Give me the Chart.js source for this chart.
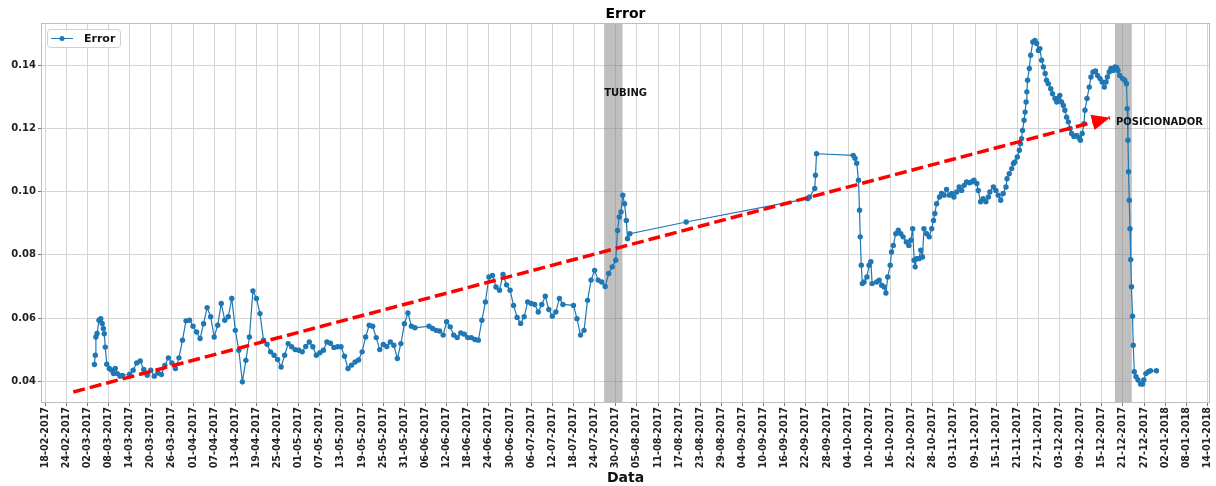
<!DOCTYPE html>
<html>
<head>
<meta charset="utf-8">
<script src="https://cdn.jsdelivr.net/npm/chart.js@4.4.1/dist/chart.umd.min.js"></script>
<style>
  html, body { margin: 0; padding: 0; background: #fff; }
  #wrap { width: 1216px; height: 486px; }
</style>
</head>
<body>
<div id="wrap"><canvas id="errorChart" width="1216" height="486"></canvas></div>
<script>
// tick labels (every 6 days)
const xTickLabels = [
    '18-02-2017', '24-02-2017', '02-03-2017', '08-03-2017', '14-03-2017', '20-03-2017', '26-03-2017',
    '01-04-2017', '07-04-2017', '13-04-2017', '19-04-2017', '25-04-2017', '01-05-2017', '07-05-2017',
    '13-05-2017', '19-05-2017', '25-05-2017', '31-05-2017', '06-06-2017', '12-06-2017', '18-06-2017',
    '24-06-2017', '30-06-2017', '06-07-2017', '12-07-2017', '18-07-2017', '24-07-2017', '30-07-2017',
    '05-08-2017', '11-08-2017', '17-08-2017', '23-08-2017', '29-08-2017', '04-09-2017', '10-09-2017',
    '16-09-2017', '22-09-2017', '28-09-2017', '04-10-2017', '10-10-2017', '16-10-2017', '22-10-2017',
    '28-10-2017', '03-11-2017', '09-11-2017', '15-11-2017', '21-11-2017', '27-11-2017', '03-12-2017',
    '09-12-2017', '15-12-2017', '21-12-2017', '27-12-2017', '02-01-2018', '08-01-2018', '14-01-2018'
];
const yTicks = [0.04, 0.06, 0.08, 0.10, 0.12, 0.14];
const xRange = ['2017-02-16 20:00', '2018-01-14 17:00'];
const yRange = [0.0331, 0.1534];

// Error series
const errorDates = [
    '2017-03-04 00:00', '2017-03-04 06:00', '2017-03-04 10:00', '2017-03-04 18:00', '2017-03-05 07:00',
    '2017-03-05 19:00', '2017-03-06 05:00', '2017-03-06 13:00', '2017-03-06 19:00', '2017-03-07 02:00',
    '2017-03-07 12:00', '2017-03-08 05:00', '2017-03-08 22:00', '2017-03-09 10:00', '2017-03-09 22:00',
    '2017-03-10 12:00', '2017-03-11 07:00', '2017-03-11 22:00',
    '2017-03-14', '2017-03-15', '2017-03-16', '2017-03-17', '2017-03-18', '2017-03-19', '2017-03-20',
    '2017-03-21', '2017-03-22', '2017-03-23', '2017-03-24', '2017-03-25', '2017-03-26', '2017-03-27',
    '2017-03-28', '2017-03-29', '2017-03-30', '2017-03-31',
    '2017-04-01', '2017-04-02', '2017-04-03', '2017-04-04', '2017-04-05', '2017-04-06', '2017-04-07',
    '2017-04-08', '2017-04-09', '2017-04-10', '2017-04-11', '2017-04-12', '2017-04-13', '2017-04-14',
    '2017-04-15', '2017-04-16', '2017-04-17', '2017-04-18', '2017-04-19', '2017-04-20', '2017-04-21',
    '2017-04-22', '2017-04-23', '2017-04-24', '2017-04-25', '2017-04-26', '2017-04-27', '2017-04-28',
    '2017-04-29', '2017-04-30',
    '2017-05-01', '2017-05-02', '2017-05-03', '2017-05-04', '2017-05-05', '2017-05-06', '2017-05-07',
    '2017-05-08', '2017-05-09', '2017-05-10', '2017-05-11', '2017-05-12', '2017-05-13', '2017-05-14',
    '2017-05-15', '2017-05-16', '2017-05-17', '2017-05-18', '2017-05-19', '2017-05-20', '2017-05-21',
    '2017-05-22', '2017-05-23', '2017-05-24', '2017-05-25', '2017-05-26', '2017-05-27', '2017-05-28',
    '2017-05-29', '2017-05-30', '2017-05-31',
    '2017-06-01', '2017-06-02', '2017-06-03', '2017-06-07', '2017-06-08', '2017-06-09', '2017-06-10',
    '2017-06-11', '2017-06-12', '2017-06-13', '2017-06-14', '2017-06-15', '2017-06-16', '2017-06-17',
    '2017-06-18', '2017-06-19', '2017-06-20', '2017-06-21', '2017-06-22', '2017-06-23', '2017-06-24',
    '2017-06-25', '2017-06-26', '2017-06-27', '2017-06-28', '2017-06-29', '2017-06-30',
    '2017-07-01', '2017-07-02', '2017-07-03', '2017-07-04', '2017-07-05', '2017-07-06', '2017-07-07',
    '2017-07-08', '2017-07-09', '2017-07-10', '2017-07-11', '2017-07-12', '2017-07-13', '2017-07-14',
    '2017-07-15', '2017-07-18', '2017-07-19', '2017-07-20', '2017-07-21', '2017-07-22', '2017-07-23',
    '2017-07-24', '2017-07-25', '2017-07-26', '2017-07-27', '2017-07-28', '2017-07-29', '2017-07-30',
    '2017-07-30 12:00', '2017-07-31', '2017-07-31 12:00', '2017-08-01', '2017-08-01 12:00', '2017-08-02',
    '2017-08-02 08:00', '2017-08-03',
    '2017-08-19', '2017-09-22 12:00', '2017-09-23', '2017-09-24 12:00', '2017-09-24 17:00', '2017-09-25',
    '2017-10-05 10:00', '2017-10-05 22:00', '2017-10-06 10:00', '2017-10-06 22:00', '2017-10-07 05:00',
    '2017-10-07 10:00', '2017-10-07 17:00', '2017-10-08 00:00', '2017-10-08 12:00', '2017-10-09 07:00',
    '2017-10-09 22:00', '2017-10-10 10:00', '2017-10-10 19:00', '2017-10-12 02:00', '2017-10-12 19:00',
    '2017-10-13 12:00', '2017-10-14 05:00', '2017-10-14 17:00', '2017-10-15 05:00', '2017-10-15 22:00',
    '2017-10-16 07:00', '2017-10-16 19:00', '2017-10-17 12:00', '2017-10-18 05:00', '2017-10-18 22:00',
    '2017-10-19 14:00', '2017-10-20 12:00', '2017-10-21 05:00', '2017-10-21 19:00', '2017-10-22 07:00',
    '2017-10-22 17:00', '2017-10-23 00:00', '2017-10-23 10:00', '2017-10-24 02:00', '2017-10-24 14:00',
    '2017-10-25 02:00', '2017-10-25 12:00', '2017-10-26 07:00', '2017-10-27 00:00', '2017-10-27 17:00',
    '2017-10-28 05:00', '2017-10-28 14:00', '2017-10-29 02:00', '2017-10-29 22:00', '2017-10-30 12:00',
    '2017-10-31 05:00', '2017-10-31 22:00',
    '2017-11-01 17:00', '2017-11-02 10:00', '2017-11-03 00:00', '2017-11-03 19:00', '2017-11-04 12:00',
    '2017-11-05 05:00', '2017-11-05 22:00', '2017-11-06 14:00', '2017-11-07 10:00', '2017-11-08 00:00',
    '2017-11-08 17:00', '2017-11-09 12:00', '2017-11-09 22:00', '2017-11-10 14:00', '2017-11-11 07:00',
    '2017-11-12 02:00', '2017-11-12 19:00', '2017-11-13 05:00', '2017-11-14 05:00', '2017-11-14 22:00',
    '2017-11-15 14:00', '2017-11-16 07:00', '2017-11-17 00:00', '2017-11-17 19:00', '2017-11-18 02:00',
    '2017-11-18 17:00', '2017-11-19 10:00', '2017-11-19 22:00', '2017-11-20 07:00', '2017-11-21 00:00',
    '2017-11-21 14:00', '2017-11-21 22:00', '2017-11-22 05:00', '2017-11-22 12:00', '2017-11-22 22:00',
    '2017-11-23 05:00', '2017-11-23 12:00', '2017-11-23 17:00', '2017-11-23 22:00', '2017-11-24 10:00',
    '2017-11-24 19:00', '2017-11-25 10:00', '2017-11-26 00:00', '2017-11-26 12:00', '2017-11-27 00:00',
    '2017-11-27 10:00', '2017-11-27 22:00', '2017-11-28 10:00', '2017-11-28 22:00', '2017-11-29 07:00',
    '2017-11-29 19:00', '2017-11-30 12:00',
    '2017-12-01 00:00', '2017-12-01 17:00', '2017-12-02 05:00', '2017-12-02 14:00', '2017-12-03 02:00',
    '2017-12-03 14:00', '2017-12-04 02:00', '2017-12-04 12:00', '2017-12-05 00:00', '2017-12-05 12:00',
    '2017-12-06 00:00', '2017-12-06 10:00', '2017-12-07 02:00', '2017-12-07 19:00', '2017-12-08 12:00',
    '2017-12-08 22:00', '2017-12-09 10:00', '2017-12-09 22:00', '2017-12-10 05:00', '2017-12-10 19:00',
    '2017-12-11 10:00', '2017-12-11 22:00', '2017-12-12 12:00', '2017-12-13 05:00', '2017-12-13 19:00',
    '2017-12-14 12:00', '2017-12-15 02:00', '2017-12-15 17:00', '2017-12-16 05:00', '2017-12-16 14:00',
    '2017-12-17 02:00', '2017-12-17 14:00', '2017-12-18 05:00', '2017-12-18 17:00', '2017-12-19 05:00',
    '2017-12-19 14:00', '2017-12-20 02:00', '2017-12-20 22:00', '2017-12-21 12:00', '2017-12-22 00:00',
    '2017-12-22 05:00', '2017-12-22 10:00', '2017-12-22 14:00', '2017-12-22 19:00', '2017-12-23 00:00',
    '2017-12-23 05:00', '2017-12-23 10:00', '2017-12-23 17:00', '2017-12-23 22:00', '2017-12-24 05:00',
    '2017-12-24 17:00', '2017-12-25 07:00', '2017-12-26 00:00', '2017-12-26 14:00', '2017-12-26 22:00',
    '2017-12-27 12:00', '2017-12-28 05:00', '2017-12-28 19:00', '2017-12-30 12:00'
];
const errorValues = [
    0.0453, 0.0482, 0.0540, 0.0551, 0.0593,
    0.0598, 0.0583, 0.0567, 0.0550, 0.0508,
    0.0454, 0.0440, 0.0435, 0.0424, 0.0440,
    0.0424, 0.0416, 0.0418,
    0.0422, 0.0435, 0.0458, 0.0464, 0.0437, 0.0419, 0.0435,
    0.0416, 0.0426, 0.0421, 0.0450, 0.0474, 0.0458, 0.0440,
    0.0474, 0.0530, 0.0591, 0.0593,
    0.0574, 0.0556, 0.0535, 0.0582, 0.0633, 0.0604, 0.0540,
    0.0577, 0.0646, 0.0593, 0.0604, 0.0662, 0.0561, 0.0498,
    0.0398, 0.0466, 0.0540, 0.0686, 0.0662, 0.0614, 0.0530,
    0.0517, 0.0493, 0.0482, 0.0469, 0.0445, 0.0482, 0.0519,
    0.0509, 0.0500,
    0.0498, 0.0493, 0.0510, 0.0524, 0.0509, 0.0482, 0.0490,
    0.0498, 0.0524, 0.0520, 0.0507, 0.0509, 0.0509, 0.0479,
    0.0440, 0.0451, 0.0461, 0.0467, 0.0493, 0.0540, 0.0577,
    0.0574, 0.0538, 0.0500, 0.0516, 0.0510, 0.0524, 0.0514,
    0.0472, 0.0519, 0.0582,
    0.0616, 0.0574, 0.0569, 0.0574, 0.0567, 0.0561, 0.0559,
    0.0546, 0.0588, 0.0572, 0.0546, 0.0538, 0.0553, 0.0549,
    0.0538, 0.0538, 0.0532, 0.0530, 0.0593, 0.0651, 0.0730,
    0.0735, 0.0698, 0.0688, 0.0738, 0.0705, 0.0688,
    0.0640, 0.0602, 0.0583, 0.0604, 0.0651, 0.0646, 0.0643,
    0.0619, 0.0643, 0.0669, 0.0627, 0.0606, 0.0619, 0.0662,
    0.0643, 0.0640, 0.0598, 0.0546, 0.0561, 0.0656, 0.0720,
    0.0751, 0.0720, 0.0714, 0.0700, 0.0741, 0.0762, 0.0783,
    0.0877, 0.0920, 0.0936, 0.0989, 0.0962, 0.0909,
    0.0851, 0.0867,
    0.0904, 0.0978, 0.0983, 0.1010, 0.1052, 0.1120,
    0.1115, 0.1106, 0.1090, 0.1036, 0.0941,
    0.0857, 0.0767, 0.0709, 0.0714, 0.0730,
    0.0767, 0.0778, 0.0709, 0.0714, 0.0720,
    0.0704, 0.0698, 0.0679, 0.0730, 0.0767,
    0.0809, 0.0830, 0.0867, 0.0878, 0.0867,
    0.0857, 0.0841, 0.0830, 0.0846, 0.0883,
    0.0783, 0.0762, 0.0788, 0.0788, 0.0815,
    0.0793, 0.0883, 0.0867, 0.0857, 0.0883,
    0.0909, 0.0931, 0.0962, 0.0983, 0.0994,
    0.0989, 0.1007,
    0.0989, 0.0994, 0.0983, 0.0999, 0.1015,
    0.1004, 0.1020, 0.1031, 0.1028, 0.1031,
    0.1036, 0.1026, 0.1004, 0.0968, 0.0978,
    0.0968, 0.0983, 0.0999, 0.1015, 0.1004,
    0.0989, 0.0973, 0.0994, 0.1015, 0.1041,
    0.1057, 0.1073, 0.1089, 0.1094, 0.1110,
    0.1131, 0.1152, 0.1168, 0.1194, 0.1226,
    0.1252, 0.1284, 0.1316, 0.1353, 0.1390,
    0.1432, 0.1474, 0.1479, 0.1469, 0.1447,
    0.1453, 0.1416, 0.1395, 0.1374, 0.1353,
    0.1342, 0.1326,
    0.1310, 0.1295, 0.1284, 0.1295, 0.1305,
    0.1284, 0.1273, 0.1258, 0.1236, 0.1221,
    0.1200, 0.1184, 0.1175, 0.1178, 0.1171,
    0.1163, 0.1184, 0.1215, 0.1258, 0.1295,
    0.1331, 0.1363, 0.1379, 0.1382, 0.1368,
    0.1358, 0.1347, 0.1331, 0.1347, 0.1363,
    0.1379, 0.1390, 0.1384, 0.1395, 0.1393,
    0.1384, 0.1368, 0.1358, 0.1353, 0.1342,
    0.1263, 0.1163, 0.1063, 0.0973, 0.0883,
    0.0785, 0.0699, 0.0606, 0.0514, 0.0430,
    0.0414, 0.0404, 0.0391, 0.0391, 0.0404,
    0.0424, 0.0430, 0.0433, 0.0433
];

// annotations
const tubingSpan = ['2017-07-26 17:00', '2017-07-31 22:00'];
const posicionadorSpan = ['2017-12-18 17:00', '2017-12-23 12:00'];
const tubingLabel = ['2017-07-26 17:00', 0.1311];
const posicionadorLabel = ['2017-12-19 00:00', 0.1220];
const trendStart = ['2017-02-26 00:00', 0.0366];
const trendEnd = ['2017-12-17 07:00', 0.1234];

const FONT = 'DejaVu Sans';
const BLUE = '#1f77b4';

function toMs(s) {
    const p = s.split(/[- :]/).map(Number);
    return Date.UTC(p[0], p[1] - 1, p[2], p[3] || 0, p[4] || 0);
}

function tickMs(label) {
    const p = label.split('-').map(Number);
    return Date.UTC(p[2], p[1] - 1, p[0]);
}

const errorPoints = errorDates.map(function(d, i) {
    return { x: toMs(d), y: errorValues[i] };
});

const overlay = {
    id: 'overlay',
    beforeDatasetsDraw: function(chart) {
        const ctx = chart.ctx;
        const xs = chart.scales.x;
        const area = chart.chartArea;
        ctx.save();
        ctx.fillStyle = 'rgba(128,128,128,0.5)';
        [tubingSpan, posicionadorSpan].forEach(function(span) {
            const x0 = xs.getPixelForValue(toMs(span[0]));
            const x1 = xs.getPixelForValue(toMs(span[1]));
            ctx.fillRect(x0, area.top, x1 - x0, area.bottom - area.top);
        });
        ctx.restore();
    },
    afterDatasetsDraw: function(chart) {
        const ctx = chart.ctx;
        const xs = chart.scales.x;
        const ys = chart.scales.y;
        const area = chart.chartArea;
        ctx.save();

        // arrow head at the end of the trend line
        const sx = xs.getPixelForValue(toMs(trendStart[0]));
        const sy = ys.getPixelForValue(trendStart[1]);
        const ex = xs.getPixelForValue(toMs(trendEnd[0]));
        const ey = ys.getPixelForValue(trendEnd[1]);
        const len = Math.hypot(ex - sx, ey - sy);
        const ux = (ex - sx) / len, uy = (ey - sy) / len;
        const headLen = 18, headHalf = 8;
        ctx.fillStyle = 'red';
        ctx.beginPath();
        ctx.moveTo(ex, ey);
        ctx.lineTo(ex - ux * headLen - uy * headHalf, ey - uy * headLen + ux * headHalf);
        ctx.lineTo(ex - ux * headLen + uy * headHalf, ey - uy * headLen - ux * headHalf);
        ctx.closePath();
        ctx.fill();

        // text labels
        ctx.fillStyle = '#111';
        ctx.font = 'bold 10px ' + FONT;
        ctx.textAlign = 'left';
        ctx.textBaseline = 'middle';
        ctx.fillText('TUBING', xs.getPixelForValue(toMs(tubingLabel[0])), ys.getPixelForValue(tubingLabel[1]));
        ctx.fillText('POSICIONADOR', xs.getPixelForValue(toMs(posicionadorLabel[0])), ys.getPixelForValue(posicionadorLabel[1]));

        // frame
        ctx.strokeStyle = '#bdbdbd';
        ctx.lineWidth = 1;
        ctx.strokeRect(area.left + 0.5, area.top + 0.5, area.right - area.left - 1, area.bottom - area.top - 1);

        // legend
        const lx = area.left + 6, ly = area.top + 6;
        ctx.fillStyle = 'rgba(255,255,255,0.85)';
        ctx.strokeStyle = '#d0d0d0';
        ctx.beginPath();
        ctx.roundRect(lx + 0.5, ly + 0.5, 73, 18, 3);
        ctx.fill();
        ctx.stroke();
        ctx.strokeStyle = BLUE;
        ctx.lineWidth = 1;
        ctx.beginPath();
        ctx.moveTo(lx + 4, ly + 9.5);
        ctx.lineTo(lx + 26, ly + 9.5);
        ctx.stroke();
        ctx.fillStyle = BLUE;
        ctx.beginPath();
        ctx.arc(lx + 15, ly + 9.5, 2.5, 0, Math.PI * 2);
        ctx.fill();
        ctx.fillStyle = '#111';
        ctx.font = 'bold 11px ' + FONT;
        ctx.fillText('Error', lx + 37, ly + 10);

        // title
        ctx.font = 'bold 14px ' + FONT;
        ctx.textAlign = 'center';
        ctx.fillStyle = '#000';
        ctx.fillText('Error', (area.left + area.right) / 2, 14);
        ctx.restore();
    }
};

const ctx = document.getElementById('errorChart').getContext('2d');
const errorChart = new Chart(ctx, {
    type: 'line',
    data: {
        datasets: [{
            label: 'tendencia',
            data: [
                { x: toMs(trendStart[0]), y: trendStart[1] },
                { x: toMs(trendEnd[0]), y: trendEnd[1] }
            ],
            borderColor: 'red',
            borderWidth: 3.5,
            borderDash: [12, 5],
            pointRadius: 0,
            order: -1
        }, {
            label: 'Error',
            data: errorPoints,
            borderColor: BLUE,
            backgroundColor: BLUE,
            borderWidth: 1.2,
            pointRadius: 2.7,
            pointBorderWidth: 0,
            pointBackgroundColor: BLUE,
            tension: 0,
            order: 0
        }]
    },
    options: {
        responsive: false,
        animation: false,
        layout: { padding: { top: 23, right: 6, left: 0, bottom: 0 } },
        plugins: {
            legend: { display: false },
            title: { display: false },
            tooltip: { enabled: false }
        },
        scales: {
            x: {
                type: 'linear',
                min: toMs(xRange[0]),
                max: toMs(xRange[1]),
                afterBuildTicks: function(scale) {
                    scale.ticks = xTickLabels.map(function(l) { return { value: tickMs(l) }; });
                },
                afterFit: function(scale) {
                    scale.height = 83;
                    scale.paddingLeft = 0;
                    scale.paddingRight = 0;
                },
                ticks: {
                    autoSkip: false,
                    minRotation: 90,
                    maxRotation: 90,
                    padding: 1,
                    color: '#222',
                    font: { family: FONT, size: 9.6, weight: 'bold' },
                    callback: function(value, index) {
                        return xTickLabels[index];
                    }
                },
                grid: { color: '#d4d4d4', tickColor: '#777', tickLength: 3 },
                border: { display: false },
                title: {
                    display: true,
                    text: 'Data',
                    color: '#111',
                    padding: { top: 0, bottom: 0 },
                    font: { family: FONT, size: 14, weight: 'bold', lineHeight: 1.15 }
                }
            },
            y: {
                min: yRange[0],
                max: yRange[1],
                afterBuildTicks: function(scale) {
                    scale.ticks = yTicks.map(function(v) { return { value: v }; });
                },
                afterFit: function(scale) {
                    scale.width = 41;
                },
                ticks: {
                    padding: 2,
                    color: '#222',
                    font: { family: FONT, size: 10, weight: 'bold' },
                    callback: function(value) {
                        return value.toFixed(2);
                    }
                },
                grid: { color: '#d4d4d4', tickColor: '#777', tickLength: 3 },
                border: { display: false }
            }
        }
    },
    plugins: [overlay]
});
</script>
</body>
</html>
